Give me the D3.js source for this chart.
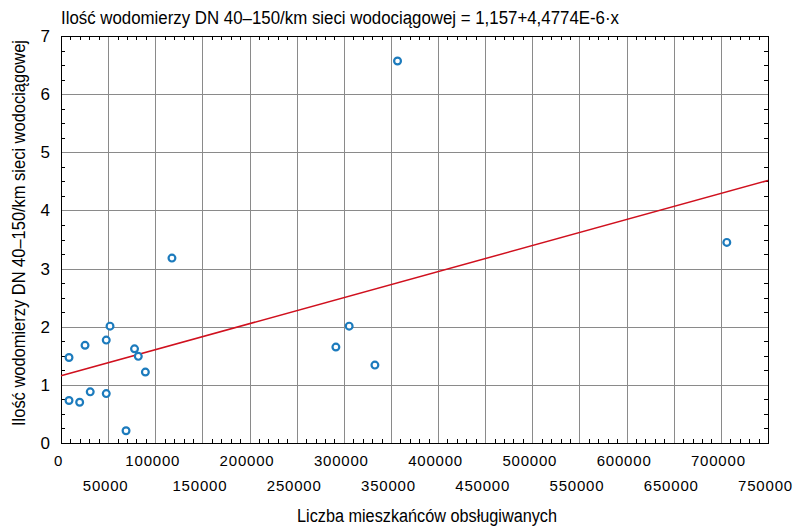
<!DOCTYPE html>
<html>
<head>
<meta charset="utf-8">
<script src="https://cdn.jsdelivr.net/npm/d3@7"></script>
<style>
  body { margin: 0; background: #fff; }
  text { font-family: "Liberation Sans", Arial, sans-serif; fill: #000; }
</style>
</head>
<body>
<svg id="chart" width="800" height="532"></svg>
<script>
// population served vs. meters DN 40-150 per km of network
const mieszkancy = [8500, 8500, 19800, 25500, 31000, 48000, 48000, 52000, 69000, 78000, 82000, 89500,
  117700, 291600, 305700, 333000, 357000, 706300];
const wodomierze = [1.47, 0.73, 0.70, 1.68, 0.88, 1.77, 0.85, 2.01, 0.21, 1.62, 1.49, 1.22,
  3.18, 1.65, 2.01, 1.34, 6.57, 3.45];

const xTicks = d3.range(0, 750001, 50000);
const yTicks = d3.range(0, 8, 1);
const intercept = 1.157;
const slope = 4.4774e-6;

const titleText = "Ilość wodomierzy DN 40–150/km sieci wodociągowej = 1,157+4,4774E-6·x";
const yLabel = "Ilość wodomierzy DN 40–150/km sieci wodociągowej";
const xLabel = "Liczba mieszkańców obsługiwanych";

const svg = d3.select("#chart");
const pL = 61, pR = 768, pT = 36, pB = 443;

const x = d3.scaleLinear().domain([0, 750000]).range([pL, pR]);
const y = d3.scaleLinear().domain([0, 7]).range([pB, pT]);

// grid
svg.append("g").selectAll("line").data(xTicks.slice(1, -1)).join("line")
  .attr("x1", d => Math.round(x(d)) + 0.5).attr("x2", d => Math.round(x(d)) + 0.5)
  .attr("y1", pT).attr("y2", pB)
  .attr("stroke", "#8a8a8a").attr("stroke-width", 1);
svg.append("g").selectAll("line").data(yTicks.slice(1, -1)).join("line")
  .attr("y1", d => Math.round(y(d)) + 0.5).attr("y2", d => Math.round(y(d)) + 0.5)
  .attr("x1", pL).attr("x2", pR)
  .attr("stroke", "#8a8a8a").attr("stroke-width", 1);

// minor ticks on all four sides, pointing inward
const xMinor = d3.range(0, 750001, 10000).filter(d => d % 50000 !== 0);
const yMinor = d3.range(0, 7.001, 0.25).filter(d => d % 1 !== 0);
const tl = 4;
const minor = svg.append("g").attr("stroke", "#000").attr("stroke-width", 1);
xMinor.forEach(d => {
  const px = Math.round(x(d)) + 0.5;
  minor.append("line").attr("x1", px).attr("x2", px).attr("y1", pB).attr("y2", pB - tl);
  minor.append("line").attr("x1", px).attr("x2", px).attr("y1", pT).attr("y2", pT + tl);
});
yMinor.forEach(d => {
  const py = Math.round(y(d)) + 0.5;
  minor.append("line").attr("y1", py).attr("y2", py).attr("x1", pL).attr("x2", pL + tl);
  minor.append("line").attr("y1", py).attr("y2", py).attr("x1", pR).attr("x2", pR - tl);
});

// frame
svg.append("rect")
  .attr("x", pL + 0.5).attr("y", pT + 0.5)
  .attr("width", pR - pL).attr("height", pB - pT)
  .attr("fill", "none").attr("stroke", "#000").attr("stroke-width", 1);

// x tick labels in two rows
const xRow1 = xTicks.filter(d => d % 100000 === 0);
const xRow2 = xTicks.filter(d => d % 100000 !== 0);
const xAx1 = svg.append("g").attr("transform", `translate(0,${pB})`)
  .call(d3.axisBottom(x).tickValues(xRow1).tickSize(0).tickPadding(12).tickFormat(d3.format("d")));
const xAx2 = svg.append("g").attr("transform", `translate(0,${pB})`)
  .call(d3.axisBottom(x).tickValues(xRow2).tickSize(0).tickPadding(37).tickFormat(d3.format("d")));
[xAx1, xAx2].forEach(g => {
  g.select(".domain").remove();
  g.selectAll("text").attr("font-size", 15).attr("letter-spacing", 0.8)
    .attr("font-family", "Liberation Sans, Arial, sans-serif")
    .attr("dx", -3).attr("fill", "#000");
});

// y tick labels
const yAx = svg.append("g").attr("transform", `translate(${pL},0)`)
  .call(d3.axisLeft(y).tickValues(yTicks).tickSize(0).tickPadding(11).tickFormat(d3.format("d")));
yAx.select(".domain").remove();
yAx.selectAll("text").attr("font-size", 17).attr("font-family", "Liberation Sans, Arial, sans-serif")
  .attr("fill", "#000");

// regression line
svg.append("line")
  .attr("x1", x(0)).attr("y1", y(intercept))
  .attr("x2", x(750000)).attr("y2", y(intercept + slope * 750000))
  .attr("stroke", "#d0101e").attr("stroke-width", 1.5);

// points
svg.append("g").selectAll("circle").data(mieszkancy.map((v, i) => [v, wodomierze[i]])).join("circle")
  .attr("cx", d => x(d[0])).attr("cy", d => y(d[1])).attr("r", 3.4)
  .attr("fill", "#fff").attr("stroke", "#1c7bbd").attr("stroke-width", 2.2);

// title and axis labels
svg.append("text").attr("x", 61).attr("y", 24)
  .attr("font-size", 18).attr("textLength", 558).attr("lengthAdjust", "spacingAndGlyphs")
  .text(titleText);

svg.append("text").attr("transform", "translate(25,426) rotate(-90)")
  .attr("font-size", 18).attr("textLength", 386).attr("lengthAdjust", "spacingAndGlyphs")
  .text(yLabel);

svg.append("text").attr("x", 297).attr("y", 522)
  .attr("font-size", 18).attr("textLength", 260).attr("lengthAdjust", "spacingAndGlyphs")
  .text(xLabel);
</script>
</body>
</html>
